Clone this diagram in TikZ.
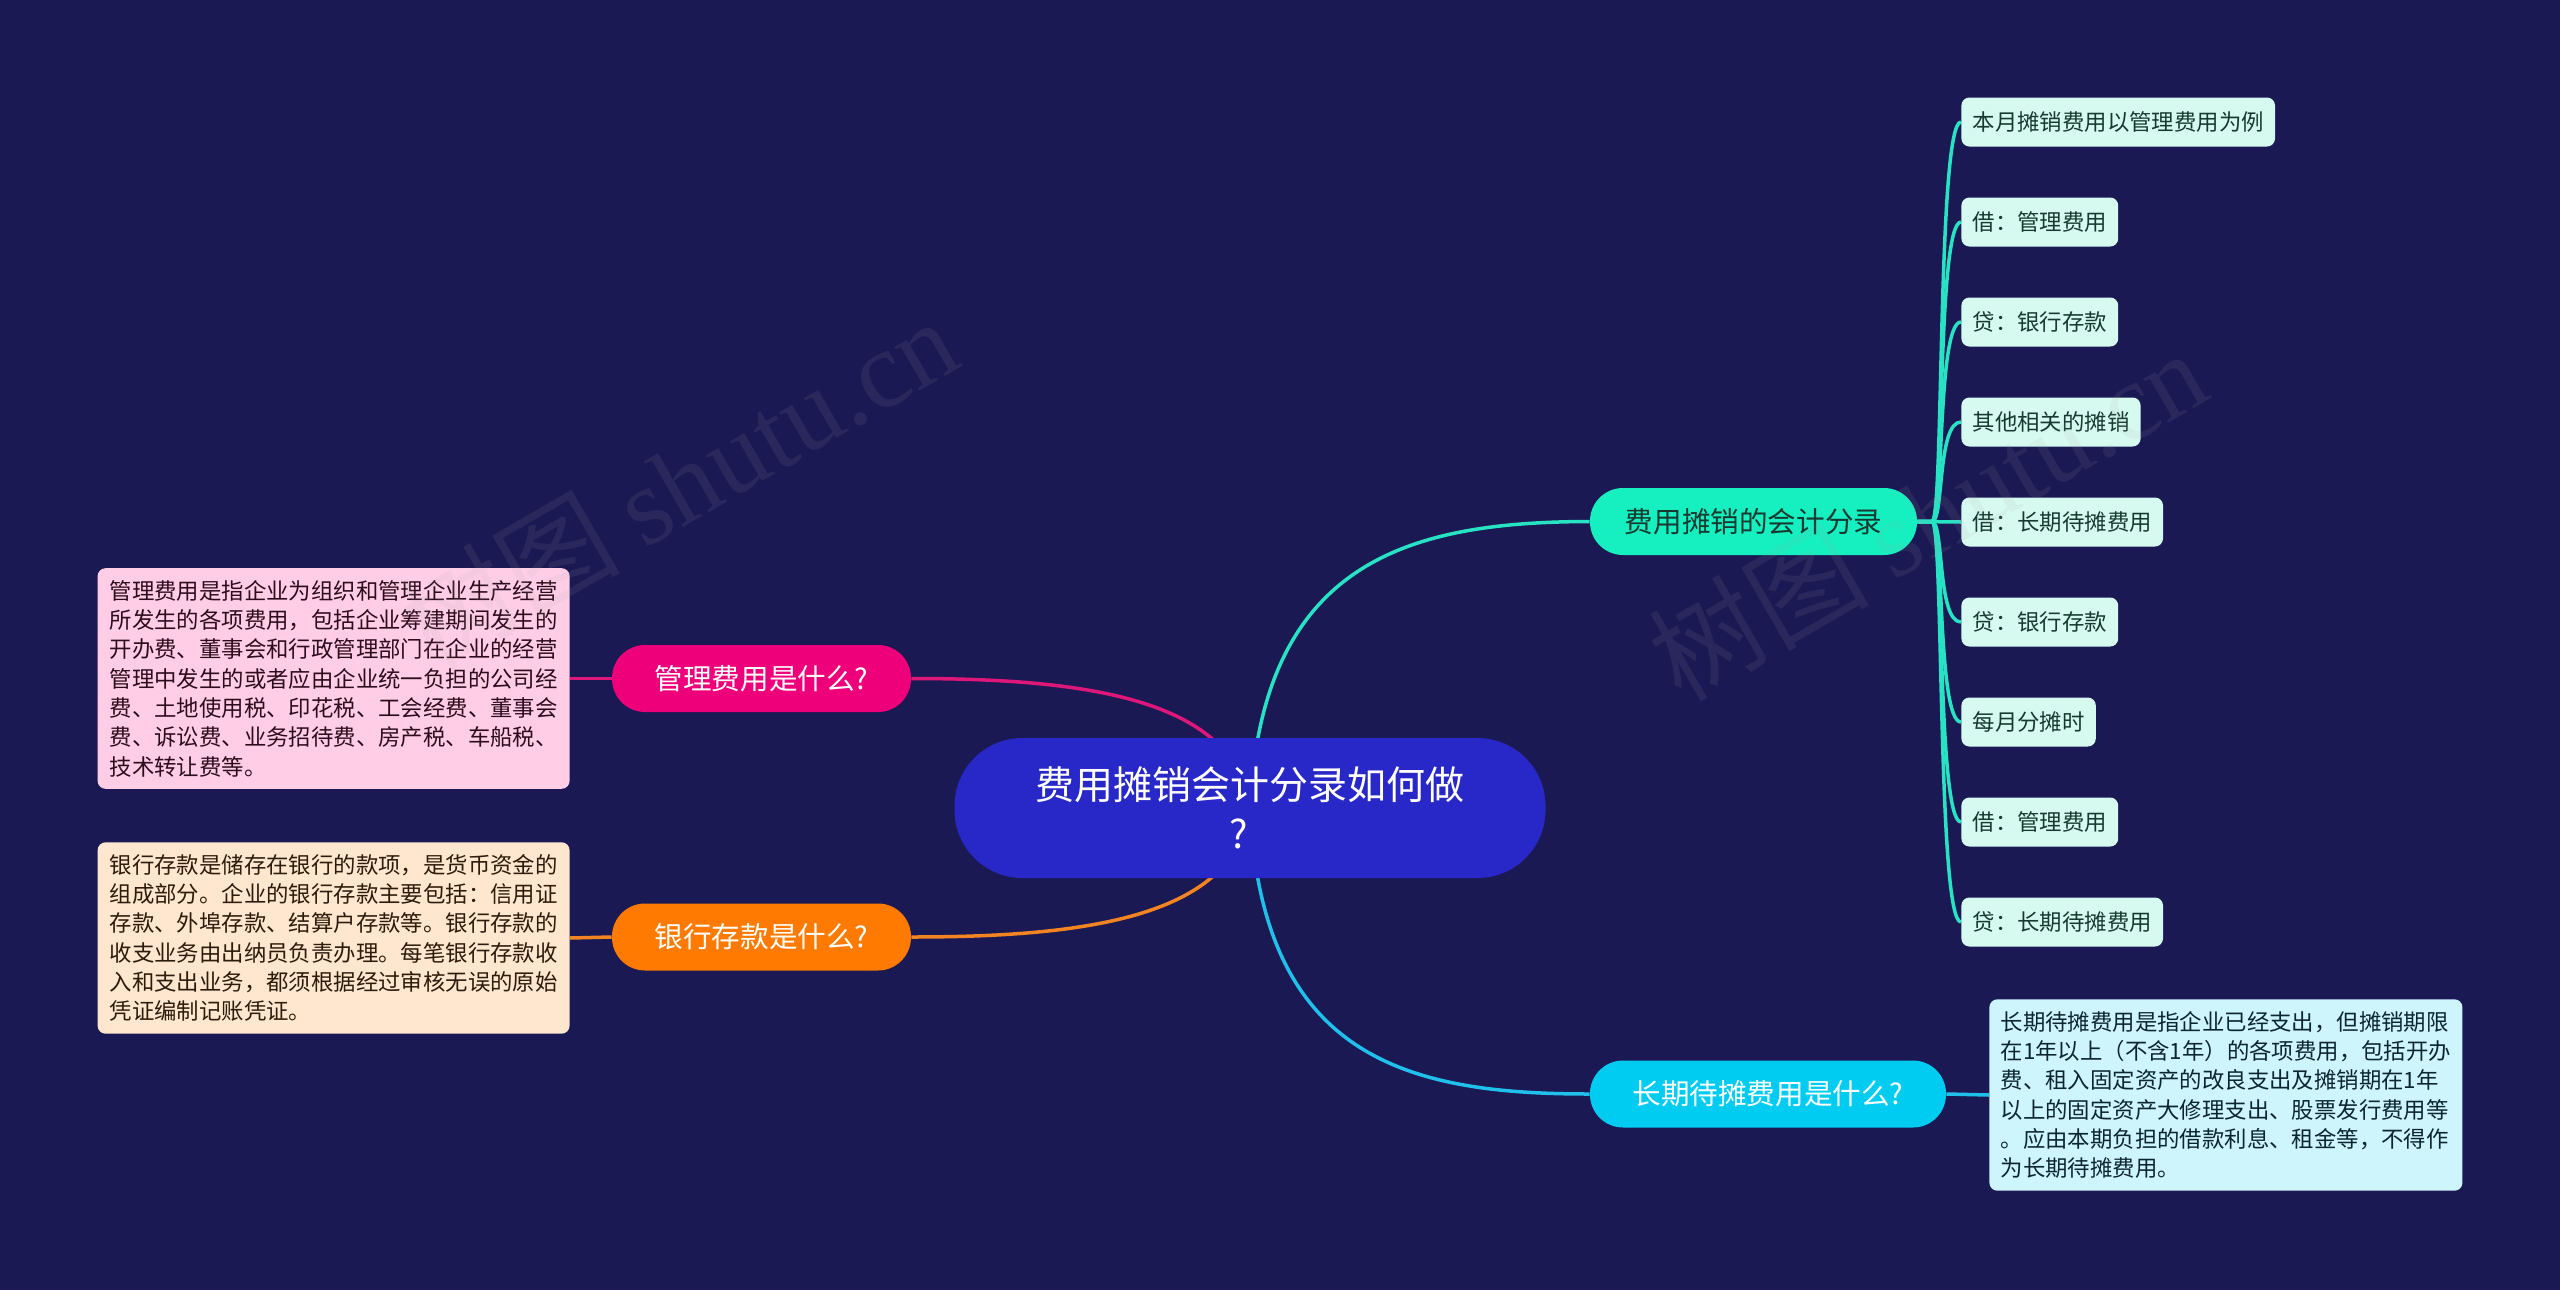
\documentclass[tikz,border=0pt]{standalone}
\usepackage{fontspec}
\setmainfont{Noto Sans CJK SC}
\newfontfamily\wmlatin{Liberation Serif}
\usetikzlibrary{backgrounds}
\definecolor{bgc}{RGB}{27,25,83}
\definecolor{rootc}{RGB}{40,40,200}
\definecolor{tealc}{RGB}{22,240,192}
\definecolor{teall}{RGB}{40,226,196}
\definecolor{cyanc}{RGB}{0,204,242}
\definecolor{cyanl}{RGB}{32,192,236}
\definecolor{pinkc}{RGB}{238,0,122}
\definecolor{pinkl}{RGB}{222,24,122}
\definecolor{orangec}{RGB}{255,122,0}
\definecolor{orangel}{RGB}{242,132,34}
\definecolor{leafc}{RGB}{214,250,240}
\definecolor{leaft}{RGB}{22,58,48}
\definecolor{pinkbox}{RGB}{255,206,230}
\definecolor{pinkt}{RGB}{45,12,28}
\definecolor{peachbox}{RGB}{255,230,206}
\definecolor{peacht}{RGB}{45,28,12}
\definecolor{cyanbox}{RGB}{206,244,252}
\definecolor{cyant}{RGB}{12,38,48}
\tikzset{
  rootnode/.style={fill=rootc, text=white, rounded corners=34pt, minimum width=295.5pt,
    minimum height=70pt, inner sep=0pt, align=center, font=\fontsize{19.5}{24.5}\selectfont},
  branchnode/.style={rounded corners=16.5pt, minimum height=33.5pt, inner sep=0pt,
    font=\fontsize{14.3}{17}\selectfont},
  leafnode/.style={fill=leafc, text=leaft, rounded corners=4pt, minimum height=24.5pt,
    inner xsep=5.6pt, inner ysep=0pt, anchor=west, font=\fontsize{11.2}{13}\selectfont},
  notenode/.style={rounded corners=4pt, align=left, inner xsep=5.6pt, inner ysep=6pt,
    font=\fontsize{11.2}{14.65}\selectfont},
  conn/.style={line width=1.75pt},
  wmark/.style={rotate=30, text=gray!70!white, opacity=0.1, font=\fontsize{55}{60}\selectfont}
}
\begin{document}
\begin{tikzpicture}[x=0.5pt,y=-0.5pt]
\useasboundingbox (0,0) rectangle (2560,1290);

% root
\node[rootnode] (c) at (1250,808) {费用摊销会计分录如何做\\?\kern11pt\relax};

% branches
\node[branchnode, fill=tealc, text=leaft, minimum width=163.5pt] (fe) at (1753.5,521.5) {费用摊销的会计分录};
\node[branchnode, fill=cyanc, text=white, minimum width=178pt] (cq) at (1768,1094) {长期待摊费用是什么?};
\node[branchnode, fill=pinkc, text=white, minimum width=149.5pt] (gl) at (761.5,678.5) {管理费用是什么?};
\node[branchnode, fill=orangec, text=white, minimum width=149.5pt] (yh) at (761.5,937) {银行存款是什么?};

% leaves
\node[leafnode] (l0) at (1961,122) {本月摊销费用以管理费用为例};
\node[leafnode] (l1) at (1961,222) {借：管理费用};
\node[leafnode] (l2) at (1961,322) {贷：银行存款};
\node[leafnode] (l3) at (1961,422) {其他相关的摊销};
\node[leafnode] (l4) at (1961,522) {借：长期待摊费用};
\node[leafnode] (l5) at (1961,622) {贷：银行存款};
\node[leafnode] (l6) at (1961,722) {每月分摊时};
\node[leafnode] (l7) at (1961,822) {借：管理费用};
\node[leafnode] (l8) at (1961,922) {贷：长期待摊费用};

% notes
\node[notenode, fill=pinkbox, text=pinkt, anchor=east, minimum width=236pt] (n1) at (570,678.5) {管理费用是指企业为组织和管理企业生产经营\\所发生的各项费用，包括企业筹建期间发生的\\开办费、董事会和行政管理部门在企业的经营\\管理中发生的或者应由企业统一负担的公司经\\费、土地使用税、印花税、工会经费、董事会\\费、诉讼费、业务招待费、房产税、车船税、\\技术转让费等。};
\node[notenode, fill=peachbox, text=peacht, anchor=east, minimum width=236pt] (n2) at (570,938) {银行存款是储存在银行的款项，是货币资金的\\组成部分。企业的银行存款主要包括：信用证\\存款、外埠存款、结算户存款等。银行存款的\\收支业务由出纳员负责办理。每笔银行存款收\\入和支出业务，都须根据经过审核无误的原始\\凭证编制记账凭证。};
\node[notenode, fill=cyanbox, text=cyant, anchor=west, minimum width=236.5pt] (n3) at (1989,1095) {长期待摊费用是指企业已经支出，但摊销期限\\在1年以上（不含1年）的各项费用，包括开办\\费、租入固定资产的改良支出及摊销期在1年\\以上的固定资产大修理支出、股票发行费用等\\。应由本期负担的借款利息、租金等，不得作\\为长期待摊费用。};

% background and connectors
\begin{scope}[on background layer]
\fill[bgc] (0,0) rectangle (2560,1290);
\draw[conn, teall] (c.center) .. controls (1262,560) and (1410,522) .. (fe.west);
\draw[conn, cyanl] (c.center) .. controls (1262,1060) and (1410,1094) .. (cq.west);
\draw[conn, pinkl] (c.center) .. controls (1235,700) and (1090,678.5) .. (gl.east);
\draw[conn, orangel] (c.center) .. controls (1235,916) and (1090,937) .. (yh.east);
\draw[conn, pinkl] (gl.west) -- (n1.east);
\draw[conn, orangel] (yh.west) -- (n2.east);
\draw[conn, cyanl] (cq.east) -- (n3.west);
\foreach \i/\yy in {0/122,1/222,2/322,3/422,5/622,6/722,7/822,8/922}{
  \draw[conn, teall] (fe.east) -- (1932,521.5) .. controls (1944,521.5) and (1937,\yy) .. (l\i.west);
}
\draw[conn, teall] (fe.east) -- (l4.west);
\end{scope}

% watermarks
\node[wmark] (w1) at (678,482) {树图 {\wmlatin shutu.cn}};
\node[wmark] (w2) at (1927,514) {树图 {\wmlatin shutu.cn}};
\end{tikzpicture}
\end{document}
